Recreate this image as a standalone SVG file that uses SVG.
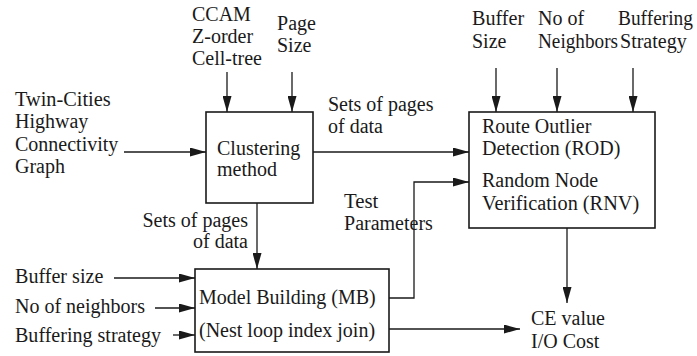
<svg xmlns="http://www.w3.org/2000/svg" width="697" height="356" viewBox="0 0 697 356" font-family="Liberation Serif, Times New Roman, serif">
  <style>
    text { font-family: "Liberation Serif", "Times New Roman", serif; font-size: 20px; fill: #1a1a1a; }
    .box { fill: #ffffff; stroke: #1a1a1a; stroke-width: 1.6; }
    .edge { fill: none; stroke: #1a1a1a; stroke-width: 1.3; }
  </style>
  <defs>
    <marker id="arrow" viewBox="0 0 16 9" refX="16" refY="4.5" markerWidth="16" markerHeight="9" markerUnits="userSpaceOnUse" orient="auto">
      <path d="M0,0 L16,4.5 L0,9 Z" fill="#1a1a1a"/>
    </marker>
  </defs>
  <rect width="697" height="356" fill="#ffffff"/>

  <!-- free-standing labels; textLength pins each line to its Times width -->
  <g id="input-graph">
    <text x="15" y="106" textLength="95.6" lengthAdjust="spacingAndGlyphs">Twin-Cities</text>
    <text x="15" y="128" textLength="73.3" lengthAdjust="spacingAndGlyphs">Highway</text>
    <text x="15" y="151" textLength="103.3" lengthAdjust="spacingAndGlyphs">Connectivity</text>
    <text x="15" y="173" textLength="50" lengthAdjust="spacingAndGlyphs">Graph</text>
  </g>
  <g id="cluster-params">
    <text x="192" y="21" textLength="58.9" lengthAdjust="spacingAndGlyphs">CCAM</text>
    <text x="192" y="43" textLength="61.1" lengthAdjust="spacingAndGlyphs">Z-order</text>
    <text x="192" y="65" textLength="70" lengthAdjust="spacingAndGlyphs">Cell-tree</text>
    <text x="277" y="30" textLength="38.9" lengthAdjust="spacingAndGlyphs">Page</text>
    <text x="277" y="52" textLength="34.4" lengthAdjust="spacingAndGlyphs">Size</text>
  </g>
  <g id="rod-params">
    <text x="472" y="25" textLength="52.2" lengthAdjust="spacingAndGlyphs">Buffer</text>
    <text x="472" y="48" textLength="34.4" lengthAdjust="spacingAndGlyphs">Size</text>
    <text x="538" y="25" textLength="46.1" lengthAdjust="spacingAndGlyphs">No of</text>
    <text x="538" y="48" textLength="80" lengthAdjust="spacingAndGlyphs">Neighbors</text>
    <text x="618" y="25" textLength="75" lengthAdjust="spacingAndGlyphs">Buffering</text>
    <text x="620" y="48" textLength="66.7" lengthAdjust="spacingAndGlyphs">Strategy</text>
  </g>
  <g id="mb-params">
    <text x="15" y="283" textLength="88.3" lengthAdjust="spacingAndGlyphs">Buffer size</text>
    <text x="15" y="313" textLength="130" lengthAdjust="spacingAndGlyphs">No of neighbors</text>
    <text x="15" y="342" textLength="146" lengthAdjust="spacingAndGlyphs">Buffering strategy</text>
  </g>
  <g id="output">
    <text x="531" y="325" textLength="73.9" lengthAdjust="spacingAndGlyphs">CE value</text>
    <text x="531" y="348" textLength="68.3" lengthAdjust="spacingAndGlyphs">I/O Cost</text>
  </g>

  <!-- process nodes -->
  <g id="clustering">
    <rect class="box" x="206" y="112" width="107" height="91"/>
    <text x="217" y="155" textLength="83.3" lengthAdjust="spacingAndGlyphs">Clustering</text>
    <text x="217" y="176" textLength="60" lengthAdjust="spacingAndGlyphs">method</text>
  </g>
  <g id="rod-rnv">
    <rect class="box" x="469" y="112" width="186" height="116"/>
    <text x="482" y="133" textLength="109.4" lengthAdjust="spacingAndGlyphs">Route Outlier</text>
    <text x="482" y="155" textLength="138.3" lengthAdjust="spacingAndGlyphs">Detection (ROD)</text>
    <text x="482" y="187" textLength="116.1" lengthAdjust="spacingAndGlyphs">Random Node</text>
    <text x="482" y="210" textLength="157.2" lengthAdjust="spacingAndGlyphs">Verification (RNV)</text>
  </g>
  <g id="model-building">
    <rect class="box" x="195" y="269" width="194" height="83"/>
    <text x="199" y="304" textLength="176.7" lengthAdjust="spacingAndGlyphs">Model Building (MB)</text>
    <text x="199" y="337" textLength="176.1" lengthAdjust="spacingAndGlyphs">(Nest loop index join)</text>
  </g>

  <!-- connectors -->
  <g id="connectors">
    <line class="edge" x1="227" y1="72" x2="227" y2="112" marker-end="url(#arrow)"/>
    <line class="edge" x1="292" y1="72" x2="292" y2="112" marker-end="url(#arrow)"/>
    <line class="edge" x1="124" y1="152" x2="206" y2="152" marker-end="url(#arrow)"/>
    <line class="edge" x1="313" y1="152" x2="469" y2="152" marker-end="url(#arrow)"/>
    <line class="edge" x1="496" y1="68" x2="496" y2="112" marker-end="url(#arrow)"/>
    <line class="edge" x1="557" y1="68" x2="557" y2="112" marker-end="url(#arrow)"/>
    <line class="edge" x1="633" y1="68" x2="633" y2="112" marker-end="url(#arrow)"/>
    <line class="edge" x1="257" y1="203" x2="257" y2="269" marker-end="url(#arrow)"/>
    <polyline class="edge" points="389,298 414,298 414,182 469,182" marker-end="url(#arrow)"/>
    <line class="edge" x1="567" y1="228" x2="567" y2="303" marker-end="url(#arrow)"/>
    <line class="edge" x1="389" y1="329" x2="520" y2="329" marker-end="url(#arrow)"/>
    <line class="edge" x1="114" y1="278" x2="195" y2="278" marker-end="url(#arrow)"/>
    <line class="edge" x1="155" y1="308" x2="195" y2="308" marker-end="url(#arrow)"/>
    <line class="edge" x1="173" y1="335" x2="195" y2="335" marker-end="url(#arrow)"/>
  </g>

  <!-- edge labels -->
  <g id="edge-labels">
    <text x="328" y="111" textLength="105.5" lengthAdjust="spacingAndGlyphs">Sets of pages</text>
    <text x="328" y="133" textLength="55" lengthAdjust="spacingAndGlyphs">of data</text>
    <text x="344" y="208" textLength="34.4" lengthAdjust="spacingAndGlyphs">Test</text>
    <text x="344" y="230" textLength="88.9" lengthAdjust="spacingAndGlyphs">Parameters</text>
    <text x="142.5" y="227" textLength="105.5" lengthAdjust="spacingAndGlyphs">Sets of pages</text>
    <text x="193" y="248" textLength="55" lengthAdjust="spacingAndGlyphs">of data</text>
  </g>
</svg>
